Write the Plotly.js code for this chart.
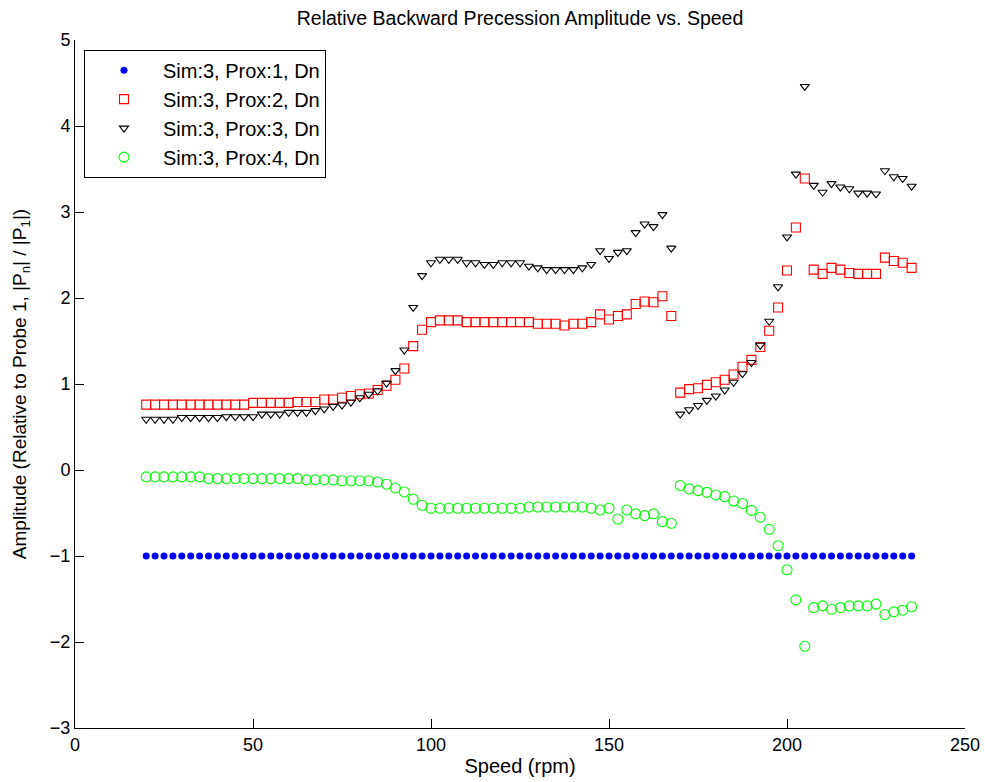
<!DOCTYPE html>
<html>
<head>
<meta charset="utf-8">
<script src="https://cdn.plot.ly/plotly-3.0.1.min.js"></script>
<style>
  html, body { margin: 0; padding: 0; background: #ffffff; }
  #chart { width: 985px; height: 782px; }
</style>
</head>
<body>
<div id="chart"></div>
<script>
// Rotor speed (rpm) at each measurement
const speed = [
  20, 22.5, 25, 27.5, 30, 32.5, 35, 37.5, 40, 42.5,
  45, 47.5, 50, 52.5, 55, 57.5, 60, 62.5, 65, 67.5,
  70, 72.5, 75, 77.5, 80, 82.5, 85, 87.5, 90, 92.5,
  95, 97.5, 100, 102.5, 105, 107.5, 110, 112.5, 115, 117.5,
  120, 122.5, 125, 127.5, 130, 132.5, 135, 137.5, 140, 142.5,
  145, 147.5, 150, 152.5, 155, 157.5, 160, 162.5, 165, 167.5,
  170, 172.5, 175, 177.5, 180, 182.5, 185, 187.5, 190, 192.5,
  195, 197.5, 200, 202.5, 205, 207.5, 210, 212.5, 215, 217.5,
  220, 222.5, 225, 227.5, 230, 232.5, 235
];

// Probe 1 (reference probe)
const prox1 = [
  -1, -1, -1, -1, -1, -1, -1, -1, -1, -1,
  -1, -1, -1, -1, -1, -1, -1, -1, -1, -1,
  -1, -1, -1, -1, -1, -1, -1, -1, -1, -1,
  -1, -1, -1, -1, -1, -1, -1, -1, -1, -1,
  -1, -1, -1, -1, -1, -1, -1, -1, -1, -1,
  -1, -1, -1, -1, -1, -1, -1, -1, -1, -1,
  -1, -1, -1, -1, -1, -1, -1, -1, -1, -1,
  -1, -1, -1, -1, -1, -1, -1, -1, -1, -1,
  -1, -1, -1, -1, -1, -1, -1
];

// Probe 2
const prox2 = [
  0.76, 0.76, 0.76, 0.76, 0.76, 0.76, 0.76, 0.76, 0.76, 0.76,
  0.76, 0.76, 0.78, 0.78, 0.78, 0.78, 0.78, 0.79, 0.79, 0.79,
  0.82, 0.82, 0.84, 0.86, 0.88, 0.89, 0.93, 0.98, 1.05, 1.18,
  1.44, 1.63, 1.72, 1.74, 1.74, 1.74, 1.72, 1.72, 1.72, 1.72,
  1.72, 1.72, 1.72, 1.72, 1.70, 1.70, 1.70, 1.68, 1.70, 1.70,
  1.72, 1.81, 1.75, 1.79, 1.81, 1.93, 1.96, 1.95, 2.02, 1.79,
  0.90, 0.94, 0.95, 0.99, 1.02, 1.05, 1.11, 1.20, 1.28, 1.43,
  1.62, 1.89, 2.32, 2.82, 3.39, 2.33, 2.28, 2.35, 2.33, 2.29,
  2.28, 2.28, 2.28, 2.47, 2.43, 2.41, 2.35
];

// Probe 3
const prox3 = [
  0.59, 0.59, 0.59, 0.59, 0.61, 0.61, 0.61, 0.61, 0.61, 0.62,
  0.62, 0.62, 0.62, 0.65, 0.65, 0.65, 0.67, 0.67, 0.67, 0.69,
  0.71, 0.74, 0.755, 0.79, 0.84, 0.88, 0.92, 1.01, 1.155, 1.395,
  1.89, 2.26, 2.41, 2.45, 2.45, 2.45, 2.41, 2.41, 2.39, 2.39,
  2.41, 2.41, 2.41, 2.37, 2.35, 2.33, 2.33, 2.33, 2.33, 2.35,
  2.39, 2.55, 2.46, 2.53, 2.55, 2.76, 2.86, 2.83, 2.97, 2.58,
  0.65, 0.70, 0.75, 0.81, 0.86, 0.93, 1.02, 1.12, 1.25, 1.45,
  1.73, 2.13, 2.71, 3.44, 4.46, 3.31, 3.23, 3.33, 3.29, 3.27,
  3.22, 3.22, 3.21, 3.48, 3.41, 3.39, 3.30
];

// Probe 4
const prox4 = [
  -0.08, -0.08, -0.08, -0.08, -0.08, -0.08, -0.08, -0.10, -0.10, -0.10,
  -0.10, -0.10, -0.10, -0.10, -0.10, -0.10, -0.10, -0.10, -0.115, -0.115,
  -0.115, -0.115, -0.125, -0.125, -0.125, -0.125, -0.14, -0.165, -0.21, -0.255,
  -0.34, -0.41, -0.445, -0.445, -0.445, -0.445, -0.445, -0.445, -0.445, -0.445,
  -0.445, -0.445, -0.445, -0.43, -0.43, -0.43, -0.43, -0.43, -0.43, -0.43,
  -0.445, -0.465, -0.445, -0.57, -0.465, -0.51, -0.53, -0.51, -0.60, -0.62,
  -0.18, -0.22, -0.24, -0.26, -0.29, -0.31, -0.36, -0.39, -0.47, -0.55,
  -0.69, -0.88, -1.16, -1.51, -2.05, -1.60, -1.58, -1.62, -1.60, -1.58,
  -1.58, -1.58, -1.56, -1.68, -1.65, -1.63, -1.59
];

const seriesNames = [
  'Sim:3, Prox:1, Dn',
  'Sim:3, Prox:2, Dn',
  'Sim:3, Prox:3, Dn',
  'Sim:3, Prox:4, Dn'
];

const FONT = 'Liberation Sans, Arial, Helvetica, sans-serif';

const traces = [
  {
    x: speed, y: prox1, name: seriesNames[0], type: 'scatter', mode: 'markers',
    marker: { symbol: 'circle', size: 7, color: '#0000ff', line: { width: 0 } }
  },
  {
    x: speed, y: prox2, name: seriesNames[1], type: 'scatter', mode: 'markers',
    marker: { symbol: 'square-open', size: 9, color: '#ff0000', line: { width: 1.1 } }
  },
  {
    x: speed, y: prox3, name: seriesNames[2], type: 'scatter', mode: 'markers',
    marker: { symbol: 'triangle-down-open', size: 8, color: '#000000', line: { width: 1.1 } }
  },
  {
    x: speed, y: prox4, name: seriesNames[3], type: 'scatter', mode: 'markers',
    marker: { symbol: 'circle-open', size: 10, color: '#00ff00', line: { width: 1.1 } }
  }
];

const layout = {
  width: 985,
  height: 782,
  margin: { l: 75, r: 20, t: 40, b: 54 },
  paper_bgcolor: '#ffffff',
  plot_bgcolor: '#ffffff',
  font: { family: FONT, color: '#000000', size: 18 },
  title: {
    text: 'Relative Backward Precession Amplitude vs. Speed',
    font: { family: FONT, size: 19.5, color: '#000000' },
    x: 0.5, xref: 'paper', xanchor: 'center',
    y: 0.977, yref: 'container', yanchor: 'middle'
  },
  xaxis: {
    range: [0, 250],
    tickmode: 'linear', tick0: 0, dtick: 50,
    ticks: 'inside', ticklen: 9, tickwidth: 1, tickcolor: '#000000',
    showline: true, linecolor: '#000000', linewidth: 1, mirror: false,
    showgrid: false, zeroline: false,
    tickfont: { family: FONT, size: 18 },
    title: { text: 'Speed (rpm)', font: { family: FONT, size: 20 }, standoff: 5 }
  },
  yaxis: {
    range: [-3, 5],
    tickmode: 'linear', tick0: -3, dtick: 1,
    ticks: 'inside', ticklen: 9, tickwidth: 1, tickcolor: '#000000',
    showline: true, linecolor: '#000000', linewidth: 1, mirror: false,
    showgrid: false, zeroline: false,
    tickfont: { family: FONT, size: 18 },
    title: {
      text: 'Amplitude (Relative to Probe 1, |P<sub>n</sub>| / |P<sub>1</sub>|)',
      font: { family: FONT, size: 19 }, standoff: 18
    }
  },
  legend: {
    x: 0.0101, xanchor: 'left',
    y: 0.986, yanchor: 'top',
    bgcolor: '#ffffff',
    bordercolor: '#000000', borderwidth: 1,
    font: { family: FONT, size: 20, color: '#000000' },
    itemwidth: 68,
    tracegroupgap: 0
  },
  showlegend: true
};

Plotly.newPlot('chart', traces, layout, { displayModeBar: false, staticPlot: true });
</script>
</body>
</html>
